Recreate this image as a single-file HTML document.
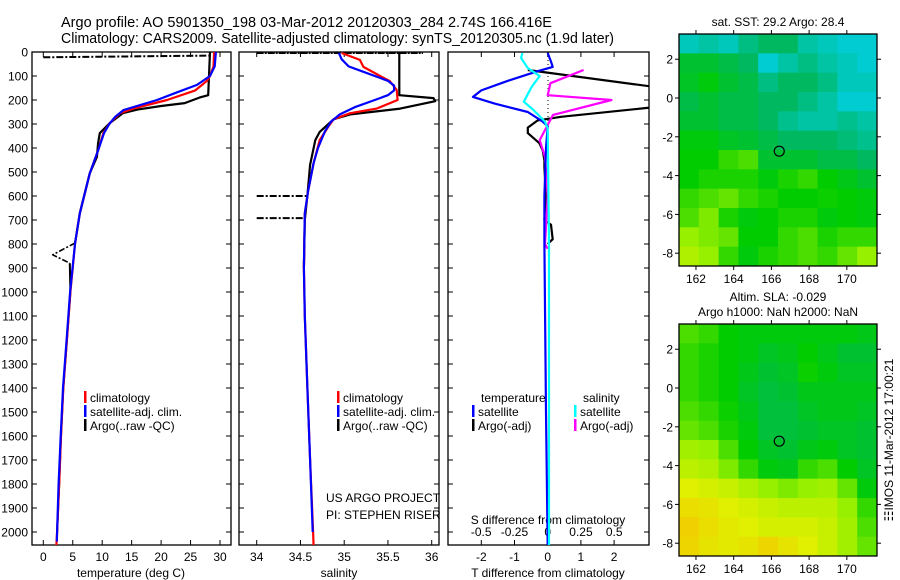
<!DOCTYPE html>
<html><head><meta charset="utf-8">
<style>
body{margin:0;background:#fff;}
svg{display:block;font-family:"Liberation Sans",sans-serif;}
text{fill:#000;}
</style></head>
<body>
<svg id="fig" width="900" height="580" viewBox="0 0 900 580">
<text x="61" y="27" font-size="14.5">Argo profile: AO 5901350_198 03-Mar-2012 20120303_284 2.74S 166.416E</text>
<text x="61" y="43" font-size="14.5" textLength="553" lengthAdjust="spacingAndGlyphs">Climatology: CARS2009. Satellite-adjusted climatology: synTS_20120305.nc (1.9d later)</text>
<g id="g"></g>
</svg>
<script>
// ---- data ----
const depthTicks=[0,100,200,300,400,500,600,700,800,900,1000,1100,1200,1300,1400,1500,1600,1700,1800,1900,2000];
const tempTicks=[0,5,10,15,20,25,30];
const salTicks=[34,34.5,35,35.5,36];
const salTickLabels=["34","34.5","35","35.5","36"];
const tdTicks=[-2,-1,0,1,2];
const sdTicks=[-0.5,-0.25,0,0.25,0.5];
const sdTickLabels=["-0.5","-0.25","0","0.25","0.5"];
// temperature profiles [depth, T]
const tempClim=[[0,29.0],[60,28.9],[100,28.3],[120,27.8],[160,25.8],[200,21],[236,15.3],[255,13],[296,11.3],[338,10.2],[410,9.3],[505,7.9],[672,6.2],[796,5.4],[1000,4.6],[1200,4.0],[1400,3.4],[1600,3.0],[1800,2.7],[2000,2.35],[2060,2.2]];
const tempSat=[[0,29.3],[60,29.1],[100,28.3],[137,26.1],[170,22.5],[200,19.3],[242,13.6],[270,12.2],[300,11.2],[338,10.3],[410,9.3],[505,7.9],[672,6.2],[796,5.4],[1000,4.55],[1200,3.95],[1400,3.35],[1600,2.95],[1800,2.6],[2000,2.35],[2040,2.3]];
const tempArgo=[[0,28.3],[180,28.0],[190,26.5],[213,24],[225,20],[240,16],[255,13.5],[296,11.3],[338,9.6],[380,9.3],[437,9.1],[505,7.9],[672,6.2],[796,5.4]];
const tempArgoSpike=[[796,5.4],[845,1.6],[880,4.5]];
const tempArgoDeep=[[880,4.5],[1000,4.6],[1200,4.0],[1400,3.4],[1600,3.0],[1800,2.7],[2000,2.35]];
const tempArgoTopNoise=[[22,0],[15,28.6]];
// salinity profiles [depth, S]
const salClim=[[4,34.97],[33,35.18],[62,35.22],[100,35.41],[121,35.52],[158,35.6],[200,35.61],[236,35.37],[255,35.07],[280,34.88],[310,34.82],[367,34.72],[463,34.65],[575,34.59],[672,34.55],[900,34.54],[1100,34.55],[1400,34.58],[1700,34.61],[2000,34.645],[2060,34.65]];
const salSat=[[4,34.94],[30,34.97],[60,35.05],[80,35.2],[100,35.35],[120,35.5],[140,35.57],[160,35.57],[180,35.5],[200,35.35],[230,35.12],[260,34.95],[290,34.85],[330,34.78],[400,34.7],[463,34.65],[575,34.59],[672,34.55],[900,34.54],[1100,34.55],[1400,34.58],[1700,34.61],[2000,34.64]];
const salArgo=[[0,35.63],[180,35.63],[192,36.02],[205,36.04],[236,35.64],[260,35.07],[280,34.88],[333,34.72],[367,34.67],[470,34.61],[597,34.58],[700,34.55],[900,34.54]];
const salArgoNoise1=[[600,34],[600,34.58]];
const salArgoNoise2=[[692,34],[692,34.56]];
const salArgoTop=[[3,34],[3,35.9]];
// difference profiles [depth, diff]
const tdSat=[[4,0],[40,0.1],[62,0.15],[80,-0.3],[120,-1.2],[160,-2.0],[187,-2.25],[215,-1.6],[250,-0.6],[290,-0.15],[310,0],[400,-0.05],[600,-0.1],[800,-0.1],[1500,-0.05],[2060,0]];
const tdArgo=[[75,-0.6],[160,4],[220,4],[233,3],[270,0.4],[285,-0.3],[315,-0.6],[338,-0.6],[380,-0.25],[410,-0.15],[450,-0.1],[480,-0.1],[600,-0.05],[700,-0.1],[720,0.1],[780,0.15],[800,0]];
const sdSat=[[4,-0.19],[25,-0.2],[67,-0.15],[100,-0.06],[145,-0.12],[207,-0.18],[240,-0.11],[290,-0.02],[320,0],[800,0.01],[2060,0.01]];
const sdArgo=[[75,0.27],[130,0.02],[180,0],[200,0.48],[262,0.04],[304,0],[367,-0.06],[437,-0.02],[600,0],[800,-0.02],[820,0]];
// maps
const lonTicks=[162,164,166,168,170];
const latTicks=[2,0,-2,-4,-6,-8];
const argoLon=166.416, argoLat=-2.74;
const sstGrid=[
[0.40,0.42,0.40,0.45,0.48,0.48,0.42,0.40,0.38,0.38],
[0.52,0.52,0.50,0.48,0.38,0.42,0.45,0.42,0.40,0.38],
[0.53,0.55,0.52,0.50,0.45,0.48,0.48,0.45,0.40,0.40],
[0.50,0.52,0.50,0.50,0.48,0.48,0.45,0.42,0.38,0.38],
[0.52,0.52,0.50,0.50,0.48,0.44,0.42,0.42,0.44,0.42],
[0.55,0.55,0.53,0.52,0.50,0.48,0.48,0.48,0.46,0.44],
[0.56,0.56,0.60,0.62,0.52,0.52,0.52,0.50,0.50,0.48],
[0.56,0.58,0.58,0.58,0.55,0.58,0.60,0.56,0.54,0.52],
[0.60,0.62,0.64,0.60,0.58,0.56,0.56,0.57,0.56,0.55],
[0.62,0.66,0.58,0.55,0.56,0.58,0.58,0.55,0.56,0.55],
[0.68,0.66,0.64,0.56,0.56,0.60,0.62,0.58,0.60,0.60],
[0.72,0.68,0.60,0.55,0.58,0.60,0.62,0.60,0.64,0.68]];
const slaGrid=[
[0.62,0.60,0.56,0.55,0.55,0.55,0.55,0.55,0.55,0.54],
[0.60,0.58,0.56,0.55,0.53,0.54,0.56,0.54,0.52,0.52],
[0.60,0.58,0.56,0.54,0.52,0.53,0.57,0.55,0.53,0.53],
[0.60,0.58,0.56,0.53,0.51,0.52,0.54,0.54,0.54,0.54],
[0.62,0.60,0.57,0.54,0.51,0.51,0.53,0.54,0.54,0.53],
[0.64,0.62,0.58,0.55,0.51,0.51,0.52,0.53,0.53,0.52],
[0.70,0.68,0.62,0.56,0.53,0.52,0.54,0.55,0.53,0.52],
[0.74,0.72,0.66,0.60,0.55,0.54,0.60,0.62,0.56,0.53],
[0.80,0.78,0.76,0.72,0.68,0.66,0.68,0.70,0.64,0.55],
[0.86,0.84,0.80,0.78,0.76,0.74,0.74,0.74,0.68,0.60],
[0.90,0.86,0.82,0.80,0.78,0.78,0.78,0.76,0.70,0.62],
[0.88,0.84,0.82,0.84,0.88,0.84,0.80,0.76,0.70,0.64]];

// ---- drawing ----
const NS="http://www.w3.org/2000/svg";
const G=document.getElementById('g');
function mk(tag,attrs,parent){const e=document.createElementNS(NS,tag);for(const k in attrs)e.setAttribute(k,attrs[k]);(parent||G).appendChild(e);return e;}
const yD=d=>52+d*0.24;
const PB=545;
const FS=12;
const xT=t=>43.3+t*5.89;
const xS=s=>256.7+(s-34)*87.5;
const xTD=v=>547.7+v*33.2;
const xSD=v=>547.7+v*133;

function clip(id,x0,x1){const c=mk('clipPath',{id:id});mk('rect',{x:x0,y:52,width:x1-x0,height:PB-52},c);}
clip('c1',32,231);clip('c2',239,439);clip('c3',448,649);

function frame(x0,x1,name){
  const r=mk('rect',{x:x0,y:52,width:x1-x0,height:PB-52,fill:'none',stroke:'#000','stroke-width':1.3});
  
  
}
frame(32,231,'temperature-panel');frame(239,439,'salinity-panel');frame(448,649,'difference-panel');

depthTicks.forEach(d=>{
  const y=yD(d);
  const t=mk('text',{x:28,y:y+4.5,'font-size':FS,'text-anchor':'end'});t.textContent=d;
  
  
  [[32,37],[226,231],[239,244],[434,439],[448,453],[644,649]].forEach(p=>mk('line',{x1:p[0],x2:p[1],y1:y,y2:y,stroke:'#000'}));
});
function xticks(ticks,labels,fx,name){
  ticks.forEach((v,i)=>{const x=fx(v);
    mk('line',{x1:x,x2:x,y1:PB,y2:PB-5,stroke:'#000'});
    mk('line',{x1:x,x2:x,y1:52,y2:57,stroke:'#000'});
    const t=mk('text',{x:x,y:561,'font-size':FS,'text-anchor':'middle'});t.textContent=labels[i];
    
    
  });
}
xticks(tempTicks,tempTicks.map(String),xT,'temperature-tick-label');
xticks(salTicks,salTickLabels,xS,'salinity-tick-label');
xticks(tdTicks,tdTicks.map(String),xTD,'t-diff-tick-label');
sdTicks.forEach((v,i)=>{const x=xSD(v);
  const t=mk('text',{x:x,y:536,'font-size':FS,'text-anchor':'middle'});t.textContent=sdTickLabels[i];
  
  
});
function lab(x,y,s,name,anchor){const t=mk('text',{x:x,y:y,'font-size':FS,'text-anchor':anchor||'start'});t.textContent=s;
  
  return t;}
lab(131,577,'temperature (deg C)','temperature-axis-title','middle');
lab(339,577,'salinity','salinity-axis-title','middle');
lab(548,577,'T difference from climatology','t-diff-axis-title','middle');
lab(548,524,'S difference from climatology','s-diff-axis-title','middle');
lab(326,502,'US ARGO PROJECT','project-label');
lab(326,519,'PI: STEPHEN RISER','pi-label');

function line(pts,fx,color,w,clipId,name,dash){
  const d=pts.map((p,i)=>(i?'L':'M')+fx(p[1]).toFixed(1)+' '+yD(p[0]).toFixed(1)).join(' ');
  const a={d:d,fill:'none',stroke:color,'stroke-width':w,'clip-path':'url(#'+clipId+')','stroke-linejoin':'round'};
  if(dash)a['stroke-dasharray']=dash;
  const e=mk('path',a);
  
  
}
line(tempArgoTopNoise,xT,'#000',2,'c1','argo-temp-surface-noise','7,2,2,2');
line(tempArgo,xT,'#000',2.2,'c1','argo-temp-line');
line(tempArgoSpike,xT,'#000',1.6,'c1','argo-temp-spike','6,2,2,2');
line(tempArgoDeep,xT,'#000',2,'c1','argo-temp-deep');
line(tempClim,xT,'#ff0000',2.2,'c1','climatology-temp-line');
line(tempSat,xT,'#0000ff',2.2,'c1','satellite-temp-line');
line(salArgoTop,xS,'#000',2.5,'c2','argo-sal-surface-noise','7,1,2,1');
line(salArgoNoise1,xS,'#000',2,'c2','argo-sal-noise-600','7,2,2,2');
line(salArgoNoise2,xS,'#000',2,'c2','argo-sal-noise-700','7,2,2,2');
line(salArgo,xS,'#000',2.2,'c2','argo-sal-line');
line(salClim,xS,'#ff0000',2.2,'c2','climatology-sal-line');
line(salSat,xS,'#0000ff',2.2,'c2','satellite-sal-line');
mk('line',{x1:548,x2:548,y1:52,y2:yD(320),stroke:'#000','stroke-dasharray':'1,3'});
line(tdArgo,xTD,'#000',2.2,'c3','argo-t-diff-line');
line(sdArgo,xSD,'#ff00ff',2.2,'c3','argo-s-diff-line');
line(tdSat,xTD,'#0000ff',2.2,'c3','satellite-t-diff-line');
line(sdSat,xSD,'#00ffff',2.2,'c3','satellite-s-diff-line');

function legItem(x,y,color,s,name){
  mk('rect',{x:x,y:y-11,width:2.5,height:12,fill:color});
  lab(x+6,y,s,name);
}
legItem(84,402,'#ff0000','climatology','legend-climatology');
legItem(84,416,'#0000ff','satellite-adj. clim.','legend-satellite-adj');
legItem(84,430,'#000','Argo(..raw -QC)','legend-argo-raw');
legItem(337,402,'#ff0000','climatology','legend-sal-climatology');
legItem(337,416,'#0000ff','satellite-adj. clim.','legend-sal-satellite-adj');
legItem(337,430,'#000','Argo(..raw -QC)','legend-sal-argo-raw');
lab(481,402,'temperature','legend-temperature-heading');
lab(583,402,'salinity','legend-salinity-heading');
legItem(472,416,'#0000ff','satellite','legend-t-satellite');
legItem(472,430,'#000','Argo(-adj)','legend-t-argo');
legItem(574,416,'#00ffff','satellite','legend-s-satellite');
legItem(574,430,'#ff00ff','Argo(-adj)','legend-s-argo');

const stops=[[0,[0,0,128]],[0.2,[0,64,255]],[0.36,[0,208,232]],[0.48,[0,184,96]],[0.56,[0,204,0]],[0.68,[150,240,0]],[0.8,[224,240,0]],[0.9,[240,208,0]],[1,[240,160,0]]];
function cmap(v){for(let i=1;i<stops.length;i++){if(v<=stops[i][0]){const a=stops[i-1],b=stops[i],f=(v-a[0])/(b[0]-a[0]);return 'rgb('+a[1].map((c,k)=>Math.round(c+(b[1][k]-c)*f)).join(',')+')';}}return 'rgb(240,160,0)';}

function drawMap(top,grid,name){
  const L=679,R=877,B=top+232;
  const lonMin=161.1,lonMax=171.6,latTop=3.3,latBot=-8.66;
  const xL=lo=>L+(lo-lonMin)/(lonMax-lonMin)*(R-L);
  const yL=la=>top+(latTop-la)/(latTop-latBot)*(B-top);
  const rows=grid.length,cols=grid[0].length;
  const cw=(R-L)/cols,ch=(B-top)/rows;
  const gg=mk('g',{});
  
  
  grid.forEach((row,r)=>row.forEach((v,c)=>{
    mk('rect',{x:(L+c*cw).toFixed(2),y:(top+r*ch).toFixed(2),width:(cw+0.5).toFixed(2),height:(ch+0.5).toFixed(2),fill:cmap(v)},gg);
  }));
  mk('rect',{x:L,y:top,width:R-L,height:B-top,fill:'none',stroke:'#000','stroke-width':1.3});
  lonTicks.forEach(lo=>{const x=xL(lo);
    mk('line',{x1:x,x2:x,y1:B,y2:B+4,stroke:'#000'});mk('line',{x1:x,x2:x,y1:top,y2:top-4,stroke:'#000'});
    lab(x,B+17,String(lo),'map-lon-tick-label','middle');});
  latTicks.forEach(la=>{const y=yL(la);
    mk('line',{x1:L,x2:L-4,y1:y,y2:y,stroke:'#000'});mk('line',{x1:R,x2:R+4,y1:y,y2:y,stroke:'#000'});
    lab(673,y+4.5,String(la),'map-lat-tick-label','end');});
  const c=mk('circle',{cx:xL(argoLon),cy:yL(argoLat),r:5,fill:'none',stroke:'#000','stroke-width':1.2});
  
  
}
drawMap(34,sstGrid,'sst-map');
drawMap(324,slaGrid,'sla-map');
lab(778,26,'sat. SST: 29.2 Argo: 28.4','sst-map-title','middle');
lab(778,301,'Altim. SLA: -0.029','sla-map-title','middle');
lab(778,316,'Argo h1000: NaN h2000: NaN','sla-map-subtitle','middle');
const vt=lab(0,0,'\u2637IMOS 11-Mar-2012 17:00:21','imos-timestamp','middle');
vt.setAttribute('transform','translate(893,440) rotate(-90)');
</script>
</body></html>
